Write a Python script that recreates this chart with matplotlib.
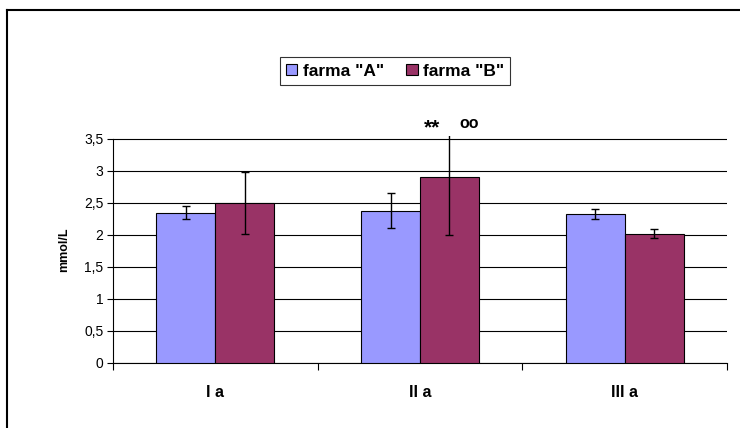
import matplotlib
matplotlib.use("Agg")
import matplotlib.pyplot as plt
import numpy as np
from matplotlib.lines import Line2D

plt.rcParams['font.family'] = ['Liberation Sans', 'DejaVu Sans']

# --- data ---
categories = ["I a", "II a", "III a"]
farma_a = [2.35, 2.38, 2.33]
farma_a_err = [0.10, 0.27, 0.08]
farma_b = [2.50, 2.90, 2.02]
farma_b_err = [0.49, 0.90, 0.07]
series_names = ['farma "A"', 'farma "B"']
yticks = [0, 0.5, 1, 1.5, 2, 2.5, 3, 3.5]
ytick_labels = ["0", "0,5", "1", "1,5", "2", "2,5", "3", "3,5"]

W, H = 740, 428
fig = plt.figure(figsize=(W / 100, H / 100), dpi=100)
ax = fig.add_axes([113 / W, 1 - 363 / H, (727 - 113) / W, (363 - 136) / H])

x = np.arange(len(categories))
bw = 0.288
err_kw = dict(ecolor="black", elinewidth=1, capsize=2.8, capthick=1)
ax.bar(x - bw / 2, farma_a, bw, color="#9999FF", edgecolor="black", linewidth=0.8,
       yerr=farma_a_err, error_kw=err_kw, label=series_names[0], zorder=3)
ax.bar(x + bw / 2, farma_b, bw, color="#993366", edgecolor="black", linewidth=0.8,
       yerr=farma_b_err, error_kw=err_kw, label=series_names[1], zorder=3)

ax.set_xlim(-0.5, len(categories) - 0.5)
ax.set_ylim(0, 3.5 + 3 / 64)
ax.set_yticks(yticks)
ax.set_yticklabels(ytick_labels, fontsize=10)
ax.yaxis.grid(True, color="black", linewidth=0.8, zorder=0)
ax.set_axisbelow(True)

# category boundaries as ticks, labels in the middle
ax.set_xticks(np.arange(-0.5, len(categories), 1.0))
ax.set_xticklabels([])
ax.set_xticks(x, minor=True)
ax.set_xticklabels(categories, minor=True, fontsize=11.5, fontweight="bold")
ax.tick_params(axis="x", which="major", length=5, direction="out", width=0.8)
ax.tick_params(axis="x", which="minor", length=0, pad=16)
ax.tick_params(axis="y", length=4, direction="out", width=0.8, pad=3)

for s in ["top", "right"]:
    ax.spines[s].set_visible(False)
ax.spines["left"].set_bounds(0, 3.5)
ax.spines["left"].set_linewidth(0.8)
ax.spines["bottom"].set_linewidth(0.8)

ax.set_ylabel("mmol/L", fontsize=9, fontweight="bold", labelpad=10)

ax.text(x[1] + 0.06, 3.52, "**", ha="center", va="bottom", fontsize=15,
        fontweight="bold")
ax.text(x[1] + 0.24, 3.62, "oo", ha="center", va="bottom", fontsize=11.5,
        fontweight="bold")

leg = fig.legend(loc="center", bbox_to_anchor=(395 / W, 1 - 71 / H), ncol=2,
                 frameon=True, fancybox=False, edgecolor="black",
                 prop=dict(size=12.5, weight="bold"), handlelength=0.65,
                 handleheight=0.65, handletextpad=0.3, columnspacing=1.3,
                 borderpad=0.35)
leg.get_frame().set_linewidth(0.8)

# outer chart border (top and left visible in the crop)
fig.add_artist(Line2D([7 / W, 7 / W], [0, 1 - 10 / H], color="black",
                      linewidth=1.5, transform=fig.transFigure))
fig.add_artist(Line2D([7 / W, 1], [1 - 10 / H, 1 - 10 / H], color="black",
                      linewidth=1.5, transform=fig.transFigure))

fig.savefig("out.png", dpi=100)
